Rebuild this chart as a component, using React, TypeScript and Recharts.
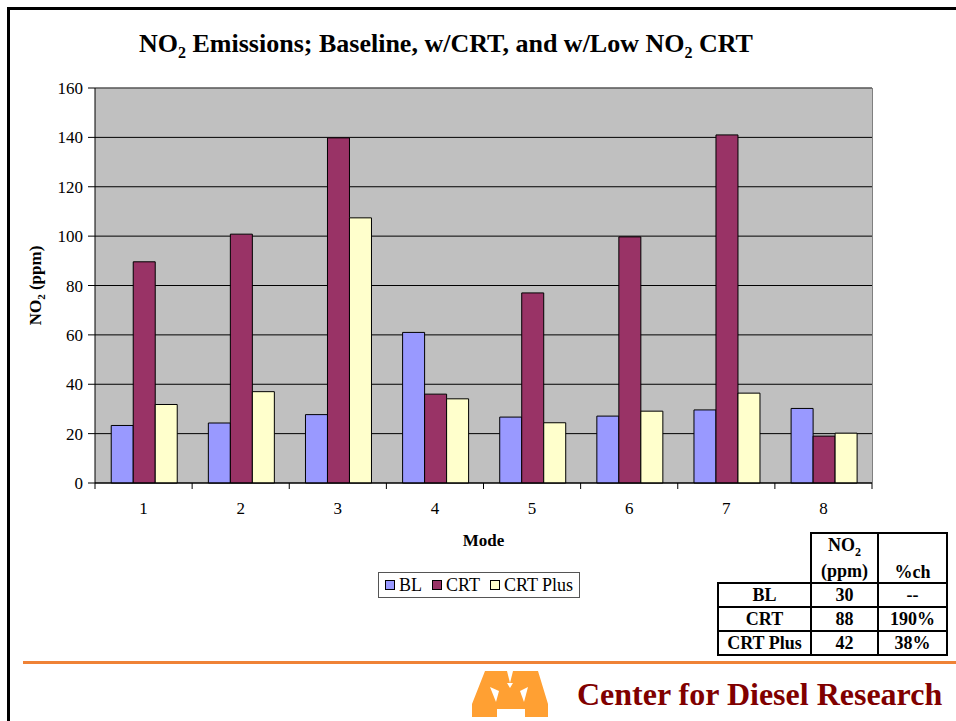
import React from "react";
import { BarChart, Bar, CartesianGrid, Legend, XAxis, YAxis, ReferenceLine, Label } from "recharts";

// NO2 by test mode, ppm
const modes = ["1", "2", "3", "4", "5", "6", "7", "8"];
const blValues = [23.3, 24.3, 27.7, 61.0, 26.7, 27.1, 29.6, 30.2];
const crtValues = [89.6, 100.8, 139.8, 36.0, 77.0, 99.7, 141.0, 19.0];
const crtPlusValues = [31.8, 37.0, 107.4, 34.1, 24.4, 29.1, 36.4, 20.2];
const yTicks = [0, 20, 40, 60, 80, 100, 120, 140, 160];

// averages table
const summaryLabels = ["BL", "CRT", "CRT Plus"];
const summaryPpm = ["30", "88", "42"];
const summaryChange = ["--", "190%", "38%"];

const data = modes.map((mode, i) => ({
    mode,
    bl: blValues[i],
    crt: crtValues[i],
    crtPlus: crtPlusValues[i],
}));

const serif = '"Liberation Serif", "Times New Roman", serif';
const X_TICK_SIZE = 6;
const X_TICK_MARGIN = 13;

const ModeTick = (props: any) => {
    const { x, y, payload, index } = props;
    const half = payload.offset || 0;
    const axisY = y - X_TICK_SIZE - X_TICK_MARGIN;
    return (
        <g>
            <line x1={x - half} y1={axisY} x2={x - half} y2={axisY + 6} stroke="#000" />
            {index === modes.length - 1 && (
                <line x1={x + half} y1={axisY} x2={x + half} y2={axisY + 6} stroke="#000" />
            )}
            <text x={x} y={y} dy="0.71em" textAnchor="middle" fontFamily={serif} fontSize={17} fill="#000">
                {payload.value}
            </text>
        </g>
    );
};

const renderLegend = (props: any) => {
    const items = props.payload || [];
    return (
        <div
            style={{
                display: "flex",
                alignItems: "center",
                gap: 10,
                border: "1px solid #555",
                padding: "0 6px",
                fontFamily: serif,
                fontSize: 18,
                background: "#fff",
                height: 24,
            }}
        >
            {items.map((it: any) => (
                <span key={it.value} style={{ display: "flex", alignItems: "center", gap: 4 }}>
                    <span style={{ width: 8, height: 8, background: it.color, border: "1px solid #000" }} />
                    {it.value}
                </span>
            ))}
        </div>
    );
};

const cell: React.CSSProperties = {
    border: "2px solid #000",
    textAlign: "center",
    padding: 0,
    lineHeight: "20px",
};

// block M emblem
const MLogo = () => (
    <svg width={100} height={57} style={{ position: "absolute", left: 460, top: 664 }}>
        <polygon
            fill="#ffa033"
            points="25,7 47,7 50,19 53,7 78,7 88,40 88,53 65,53 65,45 37,45 37,53 12,53 12,40"
        />
        <polygon fill="#fff" points="30,23 39,27 36,38" />
        <polygon fill="#fff" points="60,27 68,23 64,38" />
        <polygon fill="#fff" points="47,19 53,19 50,24" />
    </svg>
);

export default function App() {
    return (
        <div style={{ position: "absolute", left: 0, top: 0, width: 956, height: 721, overflow: "hidden", background: "#fff" }}>
            <div
                style={{
                    position: "absolute",
                    left: 7,
                    top: 7,
                    width: 1000,
                    height: 800,
                    borderLeft: "3px solid #000",
                    borderTop: "3px solid #000",
                }}
            />
            <div
                style={{
                    position: "absolute",
                    left: 0,
                    width: 892,
                    top: 29,
                    textAlign: "center",
                    fontFamily: serif,
                    fontWeight: "bold",
                    fontSize: 26,
                }}
            >
                NO<sub style={{ fontSize: 16 }}>2</sub> Emissions; Baseline, w/CRT, and w/Low NO
                <sub style={{ fontSize: 16 }}>2</sub> CRT
            </div>

            <div style={{ position: "absolute", left: 0, top: 0 }}>
                <BarChart
                    width={956}
                    height={721}
                    data={data}
                    barCategoryGap="16.7%"
                    barGap={0}
                    margin={{ top: 88, right: 84, left: 35, bottom: 208 }}
                >
                    <CartesianGrid vertical={false} stroke="#000" fill="#c0c0c0" fillOpacity={1} />
                    <XAxis
                        dataKey="mode"
                        height={30}
                        axisLine={{ stroke: "#000" }}
                        tickLine={false}
                        tickSize={X_TICK_SIZE}
                        tickMargin={X_TICK_MARGIN}
                        tick={<ModeTick />}
                        interval={0}
                    >
                        <Label
                            content={(p: any) => (
                                <text
                                    x={p.viewBox.x + p.viewBox.width / 2}
                                    y={p.viewBox.y + 63}
                                    textAnchor="middle"
                                    fontFamily={serif}
                                    fontWeight="bold"
                                    fontSize={17}
                                >
                                    Mode
                                </text>
                            )}
                        />
                    </XAxis>
                    <YAxis
                        width={60}
                        domain={[0, 160]}
                        ticks={yTicks}
                        interval={0}
                        axisLine={{ stroke: "#000" }}
                        tickLine={{ stroke: "#000" }}
                        tickSize={7}
                        tickMargin={5}
                        tick={{ fill: "#000", fontFamily: serif, fontSize: 17 }}
                    >
                        <Label
                            content={(p: any) => {
                                const cx = p.viewBox.x + 6;
                                const cy = p.viewBox.y + p.viewBox.height / 2;
                                return (
                                    <text
                                        transform={`translate(${cx},${cy}) rotate(-90)`}
                                        textAnchor="middle"
                                        fontFamily={serif}
                                        fontWeight="bold"
                                        fontSize={17}
                                    >
                                        <tspan>NO</tspan>
                                        <tspan fontSize={11} dy={4}>2</tspan>
                                        <tspan dy={-4}> (ppm)</tspan>
                                    </text>
                                );
                            }}
                        />
                    </YAxis>
                    <ReferenceLine y={160} stroke="#808080" />
                    <Legend
                        verticalAlign="middle"
                        align="center"
                        layout="horizontal"
                        content={renderLegend}
                        wrapperStyle={{ left: 378, top: 572, width: "auto" }}
                    />
                    <Bar dataKey="bl" name="BL" fill="#9999ff" stroke="#000" isAnimationActive={false} />
                    <Bar dataKey="crt" name="CRT" fill="#993366" stroke="#000" isAnimationActive={false} />
                    <Bar dataKey="crtPlus" name="CRT Plus" fill="#ffffcc" stroke="#000" isAnimationActive={false} />
                </BarChart>
            </div>
            {/* right edge of the plot frame */}
            <div style={{ position: "absolute", left: 872, top: 88, width: 1, height: 396, background: "#808080" }} />

            <table
                style={{
                    position: "absolute",
                    left: 717,
                    top: 532,
                    borderCollapse: "collapse",
                    fontFamily: serif,
                    fontWeight: "bold",
                    fontSize: 18,
                }}
            >
                <tbody>
                    <tr style={{ height: 50 }}>
                        <td style={{ ...cell, border: "none", borderBottom: "2px solid #000", width: 92 }} />
                        <td style={{ ...cell, width: 65 }}>
                            NO<sub style={{ fontSize: 12 }}>2</sub>
                            <br />
                            (ppm)
                        </td>
                        <td style={{ ...cell, width: 67, verticalAlign: "bottom" }}>%ch</td>
                    </tr>
                    {summaryLabels.map((label, i) => (
                        <tr key={label} style={{ height: 24 }}>
                            <td style={cell}>{label}</td>
                            <td style={cell}>{summaryPpm[i]}</td>
                            <td style={cell}>{summaryChange[i]}</td>
                        </tr>
                    ))}
                </tbody>
            </table>

            <div style={{ position: "absolute", left: 23, top: 661, width: 940, height: 3, background: "#ef8236" }} />
            <MLogo />
            <div
                style={{
                    position: "absolute",
                    left: 577,
                    top: 676,
                    fontFamily: serif,
                    fontWeight: "bold",
                    fontSize: 32,
                    color: "#800000",
                    whiteSpace: "nowrap",
                }}
            >
                Center for Diesel Research
            </div>
        </div>
    );
}
